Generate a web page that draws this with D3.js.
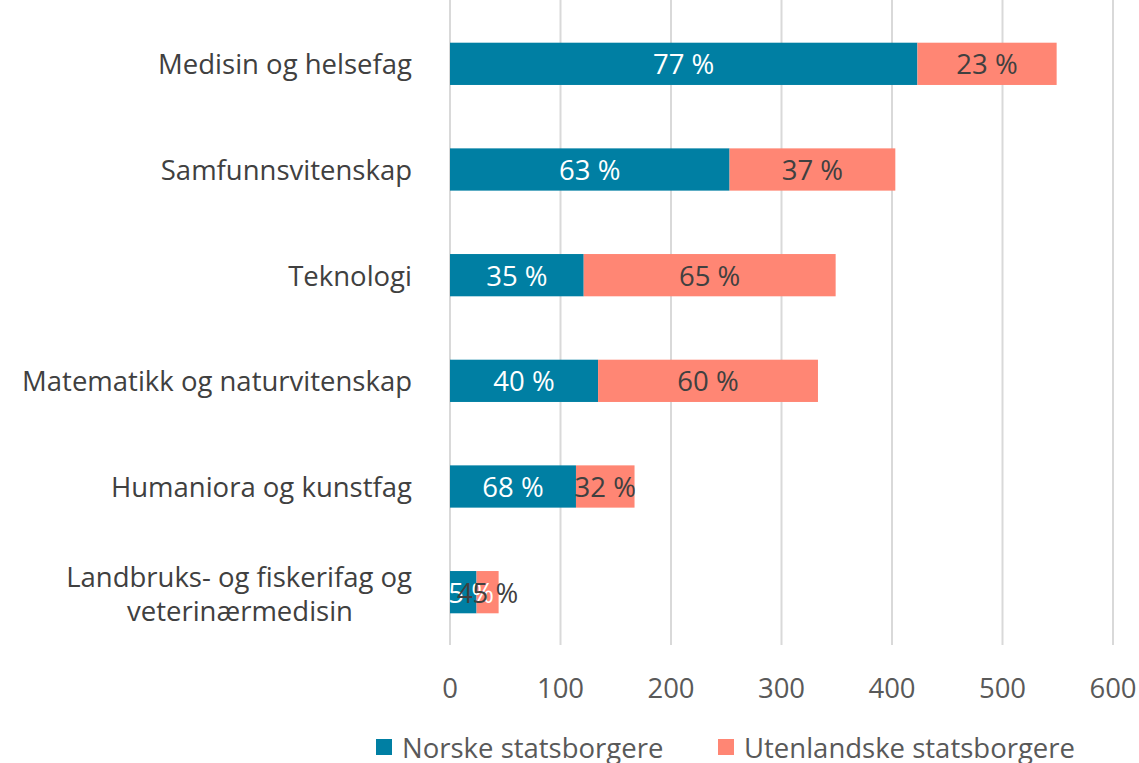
<!DOCTYPE html>
<html>
<head>
<meta charset="utf-8">
<script src="https://cdn.jsdelivr.net/npm/d3@7"></script>
<style>
  body { margin: 0; background: #fff; }
  svg text { font-family: "Open Sans", "Noto Sans", sans-serif; }
</style>
</head>
<body>
<div id="chart"></div>
<script>
// Data
var categories = ["Medisin og helsefag", "Samfunnsvitenskap", "Teknologi",
    "Matematikk og naturvitenskap", "Humaniora og kunstfag",
    "Landbruks- og fiskerifag og veterinærmedisin"];
var norske = [423, 253, 121, 134, 114, 24];
var utenlandske = [126, 150, 228, 199, 53, 20];
var norskePct = ["77 %", "63 %", "35 %", "40 %", "68 %", "55 %"];
var utenlandskePct = ["23 %", "37 %", "65 %", "60 %", "32 %", "45 %"];
var seriesNames = ["Norske statsborgere", "Utenlandske statsborgere"];
var xTicks = [0, 100, 200, 300, 400, 500, 600];

var width = 1139, height = 763;
var colors = ["#007fa3", "#ff8674"];
var fontSize = "27.5px";

var svg = d3.select("#chart").append("svg")
    .attr("width", width)
    .attr("height", height);

// Scales
var x = d3.scaleLinear().domain([0, 600]).range([450, 1113]);
var y = d3.scaleBand().domain(categories).range([11, 645]).paddingInner(0.6).paddingOuter(0.3);

// Gridlines
svg.append("g").selectAll("line")
    .data(xTicks)
    .enter().append("line")
    .attr("x1", function(d) { return x(d); })
    .attr("x2", function(d) { return x(d); })
    .attr("y1", 0)
    .attr("y2", 645)
    .attr("stroke", "#d9d9d9")
    .attr("stroke-width", 2);

// Tick labels
svg.append("g").selectAll("text")
    .data(xTicks)
    .enter().append("text")
    .attr("x", function(d) { return x(d); })
    .attr("y", 698)
    .attr("text-anchor", "middle")
    .style("font-size", fontSize)
    .style("fill", "#595959")
    .text(function(d) { return d; });

// Category labels
var catLabels = svg.append("g").selectAll("text")
    .data(categories)
    .enter().append("text")
    .attr("x", 412)
    .attr("y", function(d) { return y(d) + y.bandwidth() / 2; })
    .attr("text-anchor", "end")
    .attr("dominant-baseline", "central")
    .style("font-size", fontSize)
    .style("fill", "#404040");
catLabels.each(function(d) {
    var t = d3.select(this);
    if (d.indexOf("Landbruks") === 0) {
        t.append("tspan").attr("x", 412).attr("dy", "-0.6em").text("Landbruks- og fiskerifag og");
        t.append("tspan").attr("x", 353).attr("dy", "1.25em").text("veterinærmedisin");
    } else {
        t.text(d);
    }
});

// Bars
var rows = categories.map(function(c, i) {
    return {cat: c, n: norske[i], u: utenlandske[i], np: norskePct[i], up: utenlandskePct[i]};
});

var barG = svg.append("g");
barG.selectAll("rect.n")
    .data(rows)
    .enter().append("rect")
    .attr("x", x(0))
    .attr("y", function(d) { return y(d.cat); })
    .attr("width", function(d) { return x(d.n) - x(0); })
    .attr("height", y.bandwidth())
    .attr("fill", colors[0]);
barG.selectAll("rect.u")
    .data(rows)
    .enter().append("rect")
    .attr("x", function(d) { return x(d.n); })
    .attr("y", function(d) { return y(d.cat); })
    .attr("width", function(d) { return x(d.n + d.u) - x(d.n); })
    .attr("height", y.bandwidth())
    .attr("fill", colors[1]);

// Data labels
barG.selectAll("text.n")
    .data(rows)
    .enter().append("text")
    .attr("x", function(d) { return (x(0) + x(d.n)) / 2; })
    .attr("y", function(d) { return y(d.cat) + y.bandwidth() / 2; })
    .attr("text-anchor", "middle")
    .attr("dominant-baseline", "central")
    .style("font-size", fontSize)
    .style("fill", "#ffffff")
    .text(function(d) { return d.np; });
barG.selectAll("text.u")
    .data(rows)
    .enter().append("text")
    .attr("x", function(d) { return (x(d.n) + x(d.n + d.u)) / 2; })
    .attr("y", function(d) { return y(d.cat) + y.bandwidth() / 2; })
    .attr("text-anchor", "middle")
    .attr("dominant-baseline", "central")
    .style("font-size", fontSize)
    .style("fill", "#404040")
    .text(function(d) { return d.up; });

// Legend
var legendX = [376, 718];
var legend = svg.append("g").selectAll("g")
    .data(seriesNames)
    .enter().append("g")
    .attr("transform", function(d, i) { return "translate(" + legendX[i] + ",739)"; });
legend.append("rect")
    .attr("width", 16)
    .attr("height", 16)
    .attr("fill", function(d, i) { return colors[i]; });
legend.append("text")
    .attr("x", 26)
    .attr("y", 8)
    .attr("dominant-baseline", "central")
    .style("font-size", fontSize)
    .style("fill", "#595959")
    .text(function(d) { return d; });
</script>
</body>
</html>
